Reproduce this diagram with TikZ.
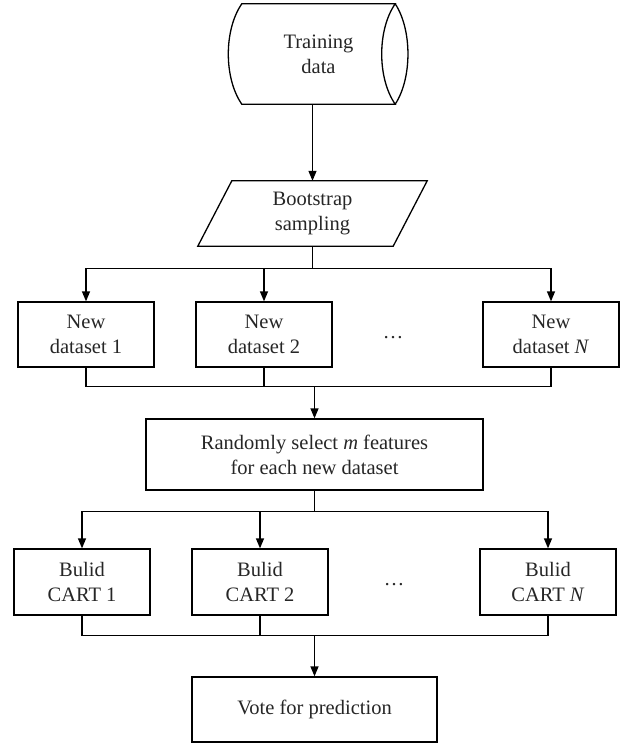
\documentclass[tikz,border=0pt]{standalone}
\usepackage{fontspec}
\setmainfont{Liberation Serif}
\usetikzlibrary{arrows.meta,calc}
\begin{document}
\begin{tikzpicture}[x=1pt,y=-1pt,
  lbl/.style={font=\fontsize{20.5}{25}\selectfont, align=center, text=black!85},
  boxnode/.style={lbl, draw, line width=1.3pt, rectangle, inner sep=0pt, minimum width=136pt, minimum height=65pt},
  plain/.style={lbl, inner sep=0pt},
  conn/.style={line width=1.3pt},
  arr/.style={conn, -{Triangle[length=10pt,width=8pt]}},
]
\useasboundingbox (0,0) rectangle (626,744);
% training data cylinder
\node[plain, minimum width=153pt, minimum height=100pt] (train) at (318.5,54) {Training\\data};
\draw[conn] (train.north west) .. controls +(-18,26) and +(-18,-26) .. (train.south west)
  -- (train.south east) .. controls +(-18,-26) and +(-18,26) .. (train.north east) -- cycle;
\draw[conn] (train.north east) .. controls +(17,26) and +(17,-26) .. (train.south east);
% bootstrap parallelogram
\node[plain, minimum width=195pt, minimum height=65pt] (boot) at (312.5,213.5) {Bootstrap\\sampling};
\draw[conn] ([xshift=17pt]boot.north west) -- ([xshift=17pt]boot.north east)
  -- ([xshift=-17pt]boot.south east) -- ([xshift=-17pt]boot.south west) -- cycle;
\draw[arr] (train.south -| boot.north) -- (boot.north);
% new datasets
\node[boxnode] (d1) at (86,334.5) {New\\dataset 1};
\node[boxnode] (d2) at (264,334.5) {New\\dataset 2};
\node[boxnode] (dN) at (551,334.5) {New\\dataset \textit{N}};
\node[plain] (dots1) at (393,338) {…};
\draw[arr] (boot.south) -- ++(0,22) -| (d1.north);
\draw[arr] (boot.south) -- ++(0,22) -| (d2.north);
\draw[arr] (boot.south) -- ++(0,22) -| (dN.north);
% random selection
\node[boxnode, minimum width=337pt, minimum height=71pt] (rand) at (314.5,454.5) {Randomly select \textit{m} features\\for each new dataset};
\coordinate (j1) at ($(rand.north)+(0,-32)$);
\draw[conn] (d1.south) |- (j1);
\draw[conn] (d2.south) |- (j1);
\draw[conn] (dN.south) |- (j1);
\draw[arr] (j1) -- (rand.north);
% CARTs
\node[boxnode, minimum height=66pt] (c1) at (82,582) {Bulid\\CART 1};
\node[boxnode, minimum height=66pt] (c2) at (260,582) {Bulid\\CART 2};
\node[boxnode, minimum height=66pt] (cN) at (548,582) {Bulid\\CART \textit{N}};
\node[plain] (dots2) at (394,585) {…};
\draw[arr] (rand.south) -- ++(0,21) -| (c1.north);
\draw[arr] (rand.south) -- ++(0,21) -| (c2.north);
\draw[arr] (rand.south) -- ++(0,21) -| (cN.north);
% vote
\node[boxnode, minimum width=245pt, minimum height=65pt] (vote) at (314.5,709.5) {Vote for prediction};
\coordinate (j2) at ($(vote.north)+(0,-41)$);
\draw[conn] (c1.south) |- (j2);
\draw[conn] (c2.south) |- (j2);
\draw[conn] (cN.south) |- (j2);
\draw[arr] (j2) -- (vote.north);
\end{tikzpicture}
\end{document}
